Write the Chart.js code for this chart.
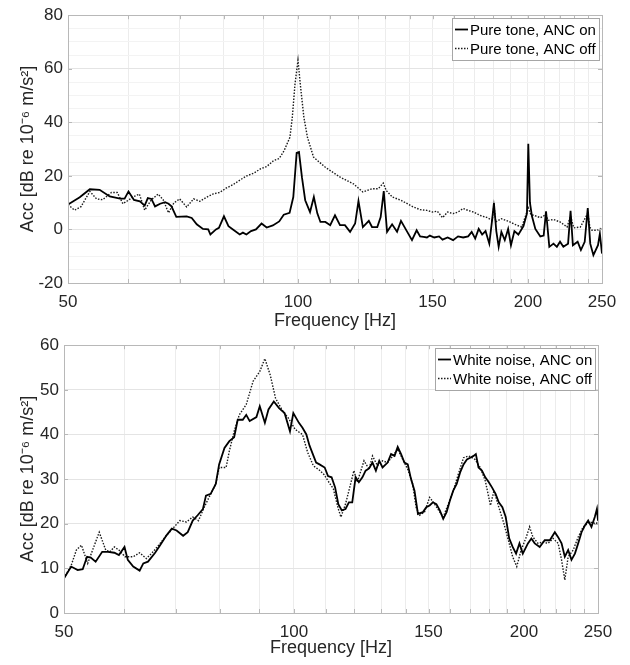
<!DOCTYPE html>
<html>
<head>
<meta charset="utf-8">
<script src="https://cdn.jsdelivr.net/npm/chart.js@4.4.1/dist/chart.umd.min.js"></script>
<style>
  html, body { margin: 0; padding: 0; background: #fff; }
  canvas { display: block; }
</style>
</head>
<body>
<canvas id="toneChart" width="630" height="330"></canvas>
<canvas id="noiseChart" width="630" height="335"></canvas>
<script>
// ---- data ----
const freqTicks = [50, 60, 70, 80, 90, 100, 110, 120, 130, 140, 150, 160, 170, 180, 190, 200, 210, 220, 230, 240, 250];
const freqLabels = [50, 100, 150, 200, 250];
const toneTicks = [-20, -15, -10, -5, 0, 5, 10, 15, 20, 25, 30, 35, 40, 45, 50, 55, 60, 65, 70, 75, 80];
const noiseTicks = [0, 10, 20, 30, 40, 50, 60];

// pure tone, ANC on (solid)
const toneOnFreq = [50, 51.8, 53.4, 55, 56.7, 58.5, 59.3, 60, 61, 62.1, 63, 63.6, 64.3, 65, 66, 67, 67.7, 68.3, 69.3, 71.5,
  72.6, 73.7, 75.1, 76.3, 76.8, 78.1, 78.8, 80, 81.1, 82.2, 83.9, 84.7, 85.6, 86.8, 88.1, 89.6, 91, 92.7, 94.5, 95.8,
  97.5, 98.6, 99.6, 100.3, 101.2, 102.2, 103.7, 104.9, 106, 107, 108.6, 110.2, 111.8, 113.5, 115.2, 117, 118.8, 120, 121.6, 123.8,
  125, 127, 128.3, 129.5, 130.8, 132.8, 134.8, 136.4, 139, 141, 143, 144.5, 146, 147.5, 148.8, 150.8, 153, 154.6, 157, 159.6,
  162, 164.5, 167, 168.8, 170.6, 172.4, 174.2, 176, 178, 179.4, 180.5, 181.8, 183.1, 184.6, 186.5, 188.4, 190, 192, 194.3, 197.3,
  199.4, 200.2, 201.2, 202.4, 204.5, 207.6, 209.7, 211.2, 213.3, 216, 218.2, 220.3, 222.5, 225.7, 227.4, 229, 232.3, 234.6, 237.3, 239.5,
  241.3, 243.6, 247, 248.4, 250];
const toneOnAcc = [9.3, 12, 15, 14.8, 12.3, 11.5, 11.5, 14.2, 11, 10.5, 8.9, 11.7, 11.4, 8.6, 9.6, 10.2, 9.6, 8.6, 4.7, 4.9,
  4.3, 1.9, 0.2, 0, -1.9, 0, 0.6, 4.9, 1.2, 0, -1.9, -1.2, -1.9, -0.6, 0, 2.2, 0.7, 1.5, 3, 5.5,
  6.2, 12.1, 28.6, 28.9, 19.5, 10.9, 6.5, 12.1, 6, 2.8, 2.8, 1.6, 5.3, 1.6, 1.6, -0.9, 2.2, 10.6, 0.9, 3.2,
  0.9, 0.9, 4.6, 14.3, -0.9, 1.9, -0.9, 3.2, -0.9, -4, -0.3, -2.6, -2.8, -3, -2.3, -3, -2.6, -3.8, -3, -4,
  -2.6, -3, -2.6, -0.9, -3.4, 0.2, -1.9, -0.6, -5.3, 2.8, 9.8, -0.6, -6.5, -0.9, -4, 0.2, -5.9, -0.6, -1.9, 1.2,
  6, 32, 10, 5, 0.2, -2.6, -2.3, 6.8, -6.5, -5.3, -6.5, -4.6, -6.5, -5.3, 7, -5.9, -4.6, -7.7, -4.6, 8,
  -5.3, -9.6, -5.9, -1.6, -9];

// pure tone, ANC off (dotted)
const toneOffFreq = [50, 51, 52, 53.4, 54.5, 55.5, 57, 58, 59, 61, 62, 63, 64.3, 65.6, 66.6, 67.7, 68.8, 70, 71.5, 73,
  74.4, 76, 77.5, 79, 80.5, 82.2, 84, 85.7, 87.5, 89.3, 91, 92.9, 94.5, 95.9, 97.6, 98.3, 99.1, 100, 100.7, 101.8,
  102.9, 104.8, 108.6, 113.6, 118.2, 121.6, 125.1, 127.4, 129.3, 130.5, 132.9, 136.4, 141.5, 144.5, 147.5, 150, 152.2, 154.6, 157, 159.6,
  162, 164.5, 167, 169.7, 173.3, 177, 179.6, 180.5, 181.5, 184.6, 188.4, 193.3, 196.3, 198.3, 200.2, 201.8, 203.5, 207.6, 211.2, 212.5,
  216, 220.3, 225, 227.4, 229.6, 234.2, 239.5, 241, 242.6, 246.3, 250];
const toneOffAcc = [9.3, 7.2, 8.5, 14.2, 11.4, 11.1, 13.8, 13.8, 9.6, 12.3, 13.2, 7.2, 11.1, 13.2, 11.1, 6.2, 9.9, 11.4, 8.4, 11.4,
  10.5, 12.1, 13.3, 13.8, 15.4, 16.7, 18.5, 20, 21, 22.6, 23.5, 25.7, 26.5, 29.4, 34.4, 41.8, 54.2, 63.2, 54.2, 41.8,
  34.4, 27, 23.2, 19.5, 17, 14, 15.2, 15.2, 17.3, 14.5, 12.1, 10.9, 8.4, 7.4, 7.1, 6.5, 6.8, 4.4, 6.5, 5.9,
  6.5, 7.8, 7.1, 6.5, 5.2, 4.4, 3.4, 9, 2.8, 4, 3.1, 1.6, 0.9, 4.6, 8, 5.5, 5.3, 4.4, 5.5, 3.4,
  3.7, 2.8, 0.9, 5, 0.6, 0.9, 6, 0.9, -0.3, -0.3, 0.3];

// white noise, ANC on (solid)
const noiseOnFreq = [50, 51.1, 52.1, 52.9, 53.6, 54.2, 55, 56.1, 57.1, 58.2, 59, 60, 60.6, 61.6, 62.8, 63.5, 64.4, 65.8, 66.8, 68.1,
  69.2, 70.2, 71.6, 72.6, 73.7, 74.8, 76, 76.7, 77.8, 79, 79.8, 81.1, 82.3, 83.5, 84.4, 85.7, 86.6, 87.5, 89.3, 90.2,
  91.6, 92.6, 94.1, 95.6, 97.2, 98.8, 99.8, 101.5, 102.6, 103.8, 104.8, 106.9, 108, 109.7, 110.8, 112, 113.2, 114.3, 115.5, 116.8,
  118, 119.2, 120.4, 121.6, 122.9, 124.1, 125.4, 126.7, 128, 129.3, 130.6, 132.6, 134, 135.4, 136.7, 138.1, 139.5, 140.9, 142.3, 143.8,
  145.3, 147.5, 149, 150.5, 152, 153.6, 155.2, 156.8, 158.4, 160, 161.6, 163.3, 165, 166.7, 168.4, 170.1, 171.8, 173, 174.4, 176.2,
  178, 179.9, 181.7, 183.6, 185.4, 187.4, 189.3, 191.3, 193.3, 195.3, 197.3, 199.3, 202.4, 204.5, 206.6, 209.7, 212.9, 216.2, 219.5, 221.7,
  224, 226.2, 228.5, 230.8, 233.2, 235.5, 237.9, 240.3, 242.7, 245.1, 247.6, 249.2, 250];
const noiseOnAcc = [7.8, 10.4, 9.6, 9.8, 12.6, 12.4, 11.5, 13.7, 13.7, 13.5, 13, 14.8, 11.9, 10.4, 9.5, 11.1, 11.5, 13.5, 15.2, 17.4,
  18.9, 18.5, 17.3, 18.1, 20.7, 21.9, 23.3, 26.3, 26.7, 28.9, 33.3, 37, 38.5, 39.4, 43.3, 43.3, 44.4, 43, 43.9, 46.3,
  42.6, 45.6, 47.4, 45.9, 44.8, 40.7, 44.8, 42.6, 41.5, 40, 37.5, 33.7, 33.3, 32.6, 30.7, 30.4, 28.1, 24.4, 23, 23.3,
  24.8, 24.8, 30.4, 29.3, 30.4, 31.9, 32.4, 33.7, 31.9, 34.1, 32.6, 33.7, 35.6, 35.2, 37.2, 35.6, 33.7, 33.3, 30, 27.4,
  22.2, 22.6, 23.7, 24.1, 24.8, 24.4, 23, 21.1, 22.6, 25.2, 27.4, 28.9, 31.5, 33.3, 34.4, 34.8, 35.2, 35.6, 32.6, 31.9,
  30.4, 29.3, 28.1, 26.7, 24.8, 23.7, 21.5, 16.7, 14.8, 13.3, 15.6, 13.3, 15.6, 16.7, 15.6, 14.8, 16.3, 16.3, 18.1, 17,
  15.6, 12.6, 14.1, 11.9, 13.3, 15.6, 18.1, 19.6, 20.7, 19.3, 21.5, 23.3, 20.7];

// white noise, ANC off (dotted)
const noiseOffFreq = [50, 51.1, 51.9, 52.7, 53.7, 54.5, 55.6, 56.7, 57.4, 58.2, 59, 60.1, 61.6, 62.8, 64.1, 65.4, 66.8, 68.1, 69.2, 70.9,
  72.3, 73.7, 75, 76.3, 77.4, 79, 79.8, 81.5, 82.3, 83.5, 84.8, 86.6, 88.4, 90.2, 91.6, 93.1, 94.6, 96.7, 98.3, 100.4,
  102.6, 104.2, 106, 108, 109.5, 110.8, 112.6, 114.3, 115.2, 116.8, 118.6, 119.8, 121, 123.5, 125.4, 126.7, 128.6, 130.6, 132.6, 134.7,
  136.7, 138.8, 140.9, 143, 144.5, 146, 148.2, 150.5, 152.8, 155.2, 156.8, 159.2, 161.6, 164.1, 166.7, 169.3, 172.6, 175.3, 178, 180.8,
  182.7, 185.4, 188.3, 191.3, 193.3, 195.7, 198.3, 201.4, 203.4, 205.5, 208.7, 211.8, 215.1, 218.4, 221.7, 224, 226.2, 228.5, 232, 235.5,
  239.1, 243.9, 248.8, 250];
const noiseOffAcc = [7.8, 10.7, 14.1, 15.2, 11.1, 14.1, 18.1, 14.1, 13.7, 14.8, 14.1, 12.6, 12.6, 13.5, 12.2, 13.7, 15.6, 17.4, 18.7, 20.7,
  20.4, 21.5, 20.7, 23.7, 25.9, 28.9, 32.6, 32.6, 36.3, 40.7, 44.4, 46.7, 51.9, 54.1, 57, 53.3, 48.1, 45.2, 43.7, 41.1,
  40, 36, 33, 32, 31, 29.6, 27.8, 23.3, 21.5, 24.4, 28.9, 31.9, 29.3, 34.1, 32.2, 35.2, 33, 34.1, 33.7, 35.2,
  36.7, 34.4, 32.2, 28.9, 23.7, 21.9, 22.6, 25.9, 24.4, 22.6, 21.5, 24.4, 27.4, 31.1, 34.8, 35.2, 34.4, 32.6, 29.6, 24.1,
  27.4, 23.7, 20, 15.6, 12.6, 10.4, 14.1, 17, 19.3, 17, 15.6, 15.9, 15.6, 16.7, 15.6, 11.9, 7.4, 12.6, 14.1, 17,
  19.3, 20.4, 20, 20.7];

// ---- helpers ----
const FONT = '"Liberation Sans", Arial, Helvetica, sans-serif';
const TEXT = '#262626';

const toPoints = (xs, ys) => xs.map((x, i) => ({ x: x, y: ys[i] }));

const solidSet = (label, xs, ys) => ({
  label: label,
  data: toPoints(xs, ys),
  borderColor: '#000',
  borderWidth: 1.8,
  pointRadius: 0,
  tension: 0
});
const dottedSet = (label, xs, ys) => ({
  label: label,
  data: toPoints(xs, ys),
  borderColor: '#1a1a1a',
  borderWidth: 1.4,
  borderDash: [1.5, 1.5],
  pointRadius: 0,
  tension: 0
});

function freqAxis(height, titlePad) {
  return {
    type: 'logarithmic',
    min: 50,
    max: 250,
    afterBuildTicks: s => { s.ticks = freqTicks.map(v => ({ value: v })); },
    afterFit: s => { s.height = height; },
    ticks: {
      autoSkip: false, maxRotation: 0, padding: 9, color: TEXT,
      font: { family: FONT, size: 17 },
      callback: v => freqLabels.includes(v) ? String(v) : ''
    },
    grid: { color: '#ececec', drawTicks: false },
    border: { display: false },
    title: {
      display: true, text: 'Frequency [Hz]', color: TEXT,
      font: { family: FONT, size: 18 }, padding: { top: 0, bottom: titlePad }
    }
  };
}

function accAxis(ticks, labelStep, width) {
  return {
    min: ticks[0],
    max: ticks[ticks.length - 1],
    afterBuildTicks: s => { s.ticks = ticks.map(v => ({ value: v })); },
    afterFit: s => { s.width = width; },
    ticks: {
      autoSkip: false, padding: 5, color: TEXT,
      font: { family: FONT, size: 17 },
      callback: v => v % labelStep === 0 ? String(v) : ''
    },
    grid: {
      drawTicks: false,
      color: c => (c.tick && c.tick.value % labelStep === 0) ? '#e4e4e4' : '#f3f3f3'
    },
    border: { display: false },
    title: {
      display: true, text: 'Acc [dB re 10\u207B\u2076 m/s\u00B2]', color: TEXT,
      font: { family: FONT, size: 18 }, padding: { top: 17, bottom: 0 }
    }
  };
}

// axes box with small inward ticks, like the original
const frameBox = {
  id: 'frameBox',
  afterDatasetsDraw(chart, args, opts) {
    const { ctx, chartArea: a, scales } = chart;
    ctx.save();
    ctx.strokeStyle = '#b8b8b8';
    ctx.lineWidth = 1;
    ctx.strokeRect(Math.round(a.left) + 0.5, Math.round(a.top) + 0.5,
      Math.round(a.right - a.left), Math.round(a.bottom - a.top));
    ctx.beginPath();
    freqTicks.forEach(v => {
      const x = Math.round(scales.x.getPixelForValue(v)) + 0.5;
      ctx.moveTo(x, a.bottom); ctx.lineTo(x, a.bottom - 4);
      ctx.moveTo(x, a.top); ctx.lineTo(x, a.top + 4);
    });
    scales.y.ticks.forEach(t => {
      if (t.value % opts.labelStep !== 0) return;
      const y = Math.round(scales.y.getPixelForValue(t.value)) + 0.5;
      ctx.moveTo(a.left, y); ctx.lineTo(a.left + 4, y);
      ctx.moveTo(a.right, y); ctx.lineTo(a.right - 4, y);
    });
    ctx.stroke();
    ctx.restore();
  }
};

// legend box inside the top right corner
const insideLegend = {
  id: 'insideLegend',
  afterDraw(chart, args, opts) {
    const { ctx, chartArea: a } = chart;
    const sets = chart.data.datasets;
    ctx.save();
    ctx.font = '15px ' + FONT;
    const textW = Math.max(...sets.map(d => ctx.measureText(d.label).width));
    const rowH = 19;
    const w = Math.round(18 + textW + 3);
    const h = Math.round(rowH * sets.length + 4);
    const x = Math.round(a.right - 3 - w);
    const y = Math.round(a.top + 3);
    ctx.fillStyle = '#fff';
    ctx.fillRect(x, y, w, h);
    ctx.strokeStyle = '#a6a6a6';
    ctx.lineWidth = 1;
    ctx.strokeRect(x + 0.5, y + 0.5, w, h);
    sets.forEach((d, i) => {
      const cy = y + 2 + rowH * i + rowH / 2;
      ctx.beginPath();
      ctx.setLineDash(d.borderDash || []);
      ctx.strokeStyle = d.borderColor;
      ctx.lineWidth = d.borderWidth;
      ctx.moveTo(x + 3, cy); ctx.lineTo(x + 16, cy);
      ctx.stroke();
      ctx.setLineDash([]);
      ctx.fillStyle = '#000';
      ctx.textBaseline = 'middle';
      ctx.fillText(d.label, x + 18, cy + 1);
    });
    ctx.restore();
  }
};

function makeChart(id, datasets, ticks, labelStep, yWidth, xHeight, titlePad, padding) {
  return new Chart(document.getElementById(id), {
    type: 'line',
    data: { datasets: datasets },
    options: {
      responsive: false,
      animation: false,
      parsing: true,
      layout: { padding: padding },
      plugins: {
        legend: { display: false },
        tooltip: { enabled: false },
        frameBox: { labelStep: labelStep }
      },
      scales: {
        x: freqAxis(xHeight, titlePad),
        y: accAxis(ticks, labelStep, yWidth)
      }
    },
    plugins: [frameBox, insideLegend]
  });
}

makeChart('toneChart', [
  solidSet('Pure tone, ANC on', toneOnFreq, toneOnAcc),
  dottedSet('Pure tone, ANC off', toneOffFreq, toneOffAcc)
], toneTicks, 20, 68, 47, -2, { top: 14, right: 28, bottom: 0, left: 0 });

makeChart('noiseChart', [
  solidSet('White noise, ANC on', noiseOnFreq, noiseOnAcc),
  dottedSet('White noise, ANC off', noiseOffFreq, noiseOffAcc)
], noiseTicks, 10, 64, 52, 6, { top: 13, right: 32, bottom: 0, left: 0 });
</script>
</body>
</html>
